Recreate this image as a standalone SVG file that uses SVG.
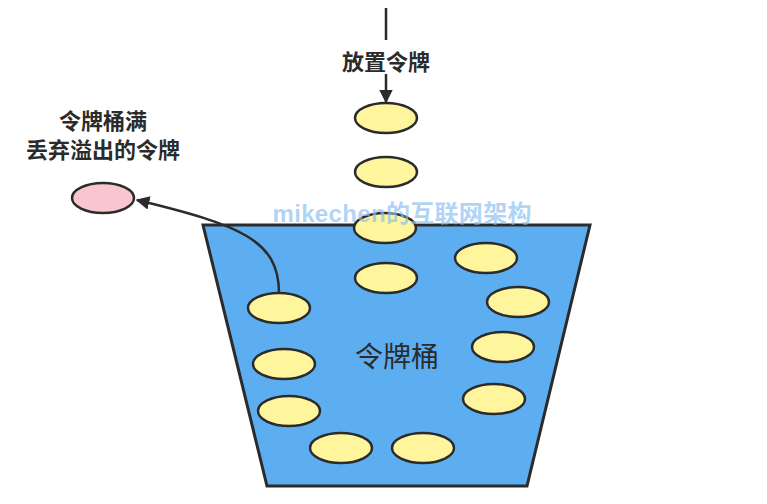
<svg xmlns="http://www.w3.org/2000/svg" width="767" height="504" viewBox="0 0 767 504">
<defs>
<style>
.tok{fill:#fff59d;stroke:#2b2b2b;stroke-width:2.5}
.drop{fill:#f9c6cf;stroke:#2b2b2b;stroke-width:2.5}
.lbl{font-family:"Noto Sans CJK SC","Liberation Sans",sans-serif;font-weight:bold;font-size:22px;fill:#2b2b2b;text-anchor:middle}
.edge{fill:none;stroke:#2b2b2b;stroke-width:2.5}
</style>
<marker id="ah" viewBox="0 0 10 10" refX="9" refY="5" markerWidth="5.5" markerHeight="5.5" orient="auto" markerUnits="strokeWidth">
<path d="M0,0 L10,5 L0,10 z" fill="#2b2b2b"/>
</marker>
</defs>
<rect width="767" height="504" fill="#ffffff"/>
<g id="bucket">
<polygon points="203,225 590,225 527,486 267,486" fill="#5caef0" stroke="#2b2b2b" stroke-width="3"/>
<text x="397" y="367" font-family="'Noto Sans CJK SC','Liberation Sans',sans-serif" font-size="28" fill="#2b2b2b" text-anchor="middle">令牌桶</text>
</g>
<g id="tokens">
<ellipse class="tok" cx="386" cy="118" rx="31" ry="15"/>
<ellipse class="tok" cx="386" cy="172" rx="31" ry="15"/>
<ellipse class="tok" cx="385" cy="228" rx="31" ry="15"/>
<ellipse class="tok" cx="386" cy="278" rx="31" ry="15"/>
<ellipse class="tok" cx="486" cy="258" rx="31" ry="15"/>
<ellipse class="tok" cx="518" cy="302" rx="31" ry="15"/>
<ellipse class="tok" cx="503" cy="347" rx="31" ry="15"/>
<ellipse class="tok" cx="494" cy="399" rx="31" ry="15"/>
<ellipse class="tok" cx="423" cy="448" rx="31" ry="15"/>
<ellipse class="tok" cx="341" cy="448" rx="31" ry="15"/>
<ellipse class="tok" cx="289" cy="411" rx="31" ry="15"/>
<ellipse class="tok" cx="284" cy="364" rx="31" ry="15"/>
<ellipse class="tok" cx="279" cy="308" rx="31" ry="15"/>
</g>
<g id="dropped">
<ellipse class="drop" cx="103" cy="198" rx="31" ry="15"/>
</g>
<g id="connectors">
<line class="edge" x1="386" y1="8" x2="386" y2="40"/>
<line class="edge" x1="386" y1="74" x2="386" y2="102" marker-end="url(#ah)"/>
<path class="edge" d="M279,293 C279,240 240,225 137,200" marker-end="url(#ah)"/>
</g>
<g id="labels">
<text class="lbl" x="386" y="70">放置令牌</text>
<text class="lbl" x="103" y="129">令牌桶满</text>
<text class="lbl" x="103" y="158">丢弃溢出的令牌</text>
</g>
<text x="402" y="222" font-family="'Liberation Sans','Noto Sans CJK SC',sans-serif" font-weight="bold" font-size="24" fill="#8ec0f0" fill-opacity="0.7" text-anchor="middle" textLength="259">mikechen的互联网架构</text>
</svg>
